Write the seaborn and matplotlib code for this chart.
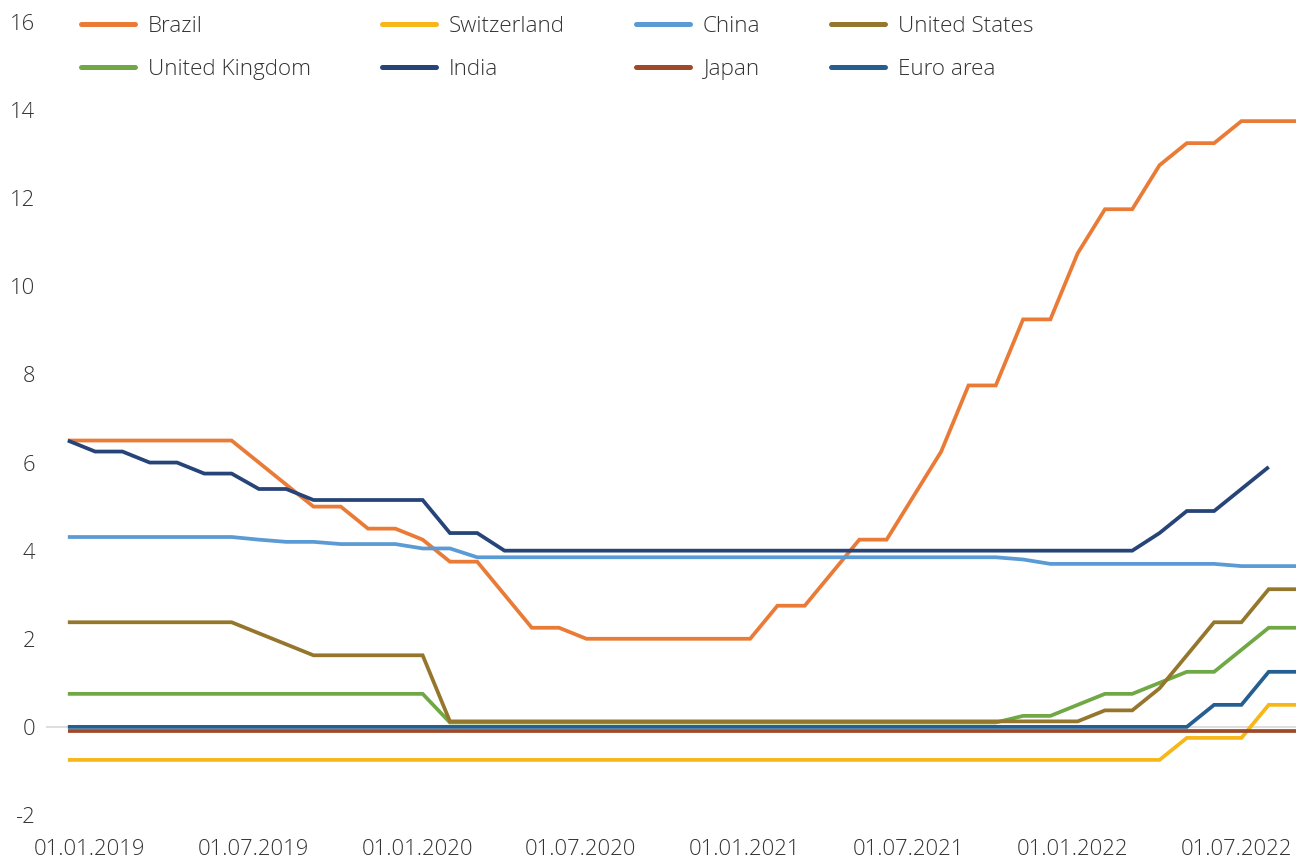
import matplotlib
matplotlib.use("Agg")
import matplotlib.pyplot as plt
from matplotlib.lines import Line2D
import seaborn as sns
import numpy as np
import pandas as pd

# Monthly policy rates, Jan 2019 .. Oct 2022 (46 months)
months = pd.date_range("2019-01-01", periods=46, freq="MS")

brazil = [6.5, 6.5, 6.5, 6.5, 6.5, 6.5, 6.5, 6.0, 5.5, 5.0, 5.0, 4.5,
          4.5, 4.25, 3.75, 3.75, 3.0, 2.25, 2.25, 2.0, 2.0, 2.0, 2.0, 2.0,
          2.0, 2.0, 2.75, 2.75, 3.5, 4.25, 4.25, 5.25, 6.25, 7.75, 7.75, 9.25,
          9.25, 10.75, 11.75, 11.75, 12.75, 13.25, 13.25, 13.75, 13.75, 13.75]
switzerland = [-0.75] * 41 + [-0.25, -0.25, -0.25, 0.5, 0.5]
china = [4.31] * 7 + [4.25, 4.20, 4.20, 4.15, 4.15, 4.15, 4.05, 4.05] + [3.85] * 20 + \
        [3.80] + [3.70] * 7 + [3.65] * 3
united_states = [2.375] * 7 + [2.125, 1.875] + [1.625] * 5 + [0.125] * 24 + \
                [0.375, 0.375, 0.875, 1.625, 2.375, 2.375, 3.125, 3.125]
united_kingdom = [0.75] * 14 + [0.1] * 21 + [0.25, 0.25, 0.5, 0.75, 0.75, 1.0,
                                              1.25, 1.25, 1.75, 2.25, 2.25]
india = [6.5, 6.25, 6.25, 6.0, 6.0, 5.75, 5.75, 5.4, 5.4, 5.15, 5.15, 5.15,
         5.15, 5.15, 4.4, 4.4] + [4.0] * 24 + [4.4, 4.9, 4.9, 5.4, 5.9, np.nan]
japan = [-0.1] * 46
euro_area = [0.0] * 42 + [0.5, 0.5, 1.25, 1.25]

tick_labels = ["01.01.2019", "01.07.2019", "01.01.2020", "01.07.2020",
               "01.01.2021", "01.07.2021", "01.01.2022", "01.07.2022"]

series = {
    "Brazil": brazil,
    "Switzerland": switzerland,
    "China": china,
    "United Kingdom": united_kingdom,
    "United States": united_states,
    "India": india,
    "Japan": japan,
    "Euro area": euro_area,
}
colors = {
    "Brazil": "#E97B36",
    "Switzerland": "#F7B718",
    "China": "#5B9BD5",
    "United States": "#94772C",
    "United Kingdom": "#6FA844",
    "India": "#264478",
    "Japan": "#9E4A28",
    "Euro area": "#255E91",
}
legend_order = ["Brazil", "United Kingdom", "Switzerland", "India",
                "China", "Japan", "United States", "Euro area"]

sns.set_theme(style="white")
plt.rcParams["font.family"] = ["Open Sans", "DejaVu Sans"]
plt.rcParams["font.weight"] = "light"

fig = plt.figure(figsize=(13.05, 8.59), dpi=100)
ax = fig.add_axes([46 / 1305, 44 / 859, 1250 / 1305, 793 / 859])

idx = np.arange(len(months))
ax.axhline(0, color="#d9d9d9", lw=1.2, zorder=0)
for name, vals in series.items():
    df = pd.DataFrame({"x": idx, "y": vals}).dropna()
    sns.lineplot(data=df, x="x", y="y", ax=ax, color=colors[name], lw=2.7,
                 estimator=None, sort=False, clip_on=False,
                 solid_capstyle="butt", solid_joinstyle="miter")

ax.set_xlim(-0.8, 45)
ax.set_ylim(-2, 16)
ax.set_yticks(np.arange(-2, 17, 2))
ax.set_yticklabels([str(v) for v in range(-2, 17, 2)])
ax.set_xticks(np.arange(0, 46, 6)[:8] + 0.8)
ax.set_xticklabels(tick_labels)
ax.set_xlabel("")
ax.set_ylabel("")
for s in ax.spines.values():
    s.set_visible(False)
ax.tick_params(axis="both", length=0, labelsize=15.8, colors="#333333")
ax.tick_params(axis="y", pad=8)
ax.tick_params(axis="x", pad=17.5)
ax.grid(False)

handles = [Line2D([0], [0], color=colors[n], lw=3.6, solid_capstyle="round")
           for n in legend_order]
leg = fig.legend(handles, legend_order, ncol=4, loc="upper left",
                 bbox_to_anchor=(81 / 1305, 1 - 16 / 859), frameon=False,
                 fontsize=16.2, handlelength=2.4, handletextpad=0.58,
                 columnspacing=3.15, labelspacing=0.98, borderpad=0,
                 borderaxespad=0)
for t in leg.get_texts():
    t.set_color("#333333")

fig.savefig("out.png", dpi=100)
